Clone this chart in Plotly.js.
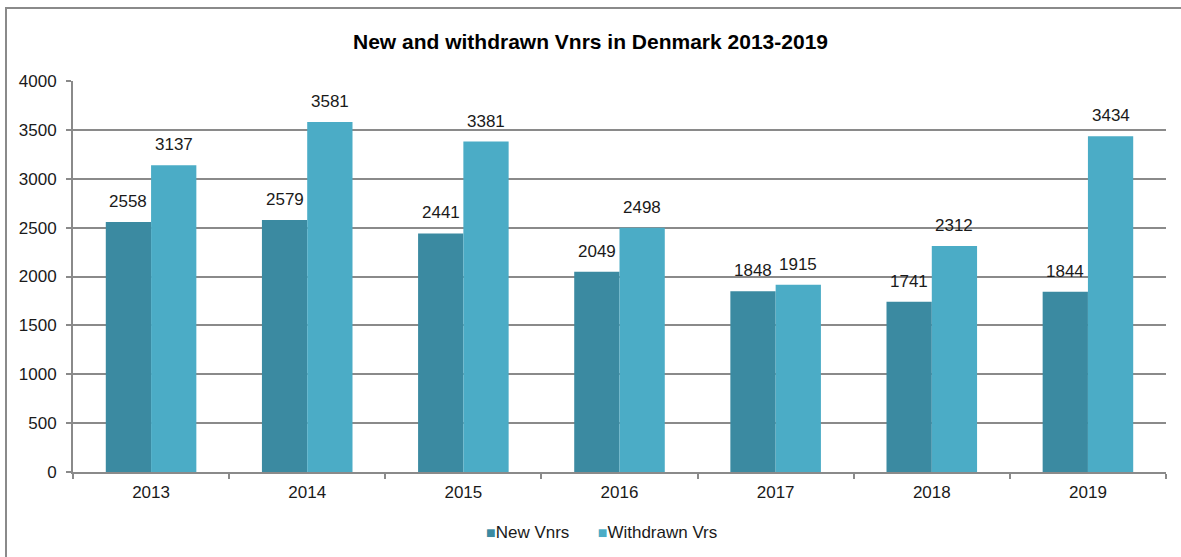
<!DOCTYPE html>
<html>
<head>
<meta charset="utf-8">
<script src="https://cdn.plot.ly/plotly-3.0.1.min.js"></script>
<style>
  html, body { margin: 0; padding: 0; background: #fff; overflow: hidden; }
  #chart { width: 1181px; height: 557px; position: absolute; left: 0; top: 0; }
  #frame { position: absolute; left: 5px; top: 7px; width: 1190px; height: 600px;
           border-left: 2px solid #8a8a8a; border-top: 2px solid #8a8a8a; pointer-events: none; }
</style>
</head>
<body>
<div id="chart"></div>
<div id="frame"></div>
<script>
const years = ['2013', '2014', '2015', '2016', '2017', '2018', '2019'];
const newVnrs = [2558, 2579, 2441, 2049, 1848, 1741, 1844];
const withdrawnVrs = [3137, 3581, 3381, 2498, 1915, 2312, 3434];
const seriesNames = ['New Vnrs', 'Withdrawn Vrs'];
const seriesColors = ['#3b8aa1', '#4bacc6'];
const yTicks = [0, 500, 1000, 1500, 2000, 2500, 3000, 3500, 4000];

const FONT = 'Liberation Sans, Arial, sans-serif';
const labelFont = { family: FONT, size: 17, color: '#1a1a1a' };

const W = 1181, H = 557;
const margin = { l: 73, r: 15, t: 81, b: 85 };
const bargap = 0.42;
const plotW = W - margin.l - margin.r;
const catW = plotW / years.length;
const barW = catW * (1 - bargap) / 2;

const seriesData = [newVnrs, withdrawnVrs];

const traces = seriesData.map((vals, i) => ({
  type: 'bar', name: seriesNames[i], x: years, y: vals,
  marker: { color: seriesColors[i] },
  hoverinfo: 'x+y', showlegend: false
}));

const annotations = [];
seriesData.forEach((vals, i) => {
  vals.forEach((v, j) => {
    annotations.push({
      x: j, y: v, xref: 'x', yref: 'y',
      text: String(v), showarrow: false,
      xanchor: 'center', yanchor: 'bottom',
      xshift: (i === 0 ? -1 : 1) * barW / 2,
      yshift: 9,
      font: labelFont
    });
  });
});

// legend built from series names/colors
const legendText = seriesNames.map((n, i) =>
  '<span style="color:' + seriesColors[i] + ';font-size:16px">■</span>' + n
).join('      ');
annotations.push({
  xref: 'paper', yref: 'paper', x: 0.5, xshift: -18,
  y: -(532 - (H - margin.b)) / (H - margin.t - margin.b),
  xanchor: 'center', yanchor: 'middle',
  text: legendText, showarrow: false,
  font: labelFont
});

const layout = {
  width: W, height: H,
  margin: margin,
  paper_bgcolor: 'rgba(0,0,0,0)',
  plot_bgcolor: '#ffffff',
  barmode: 'group',
  bargap: bargap,
  bargroupgap: 0,
  title: {
    text: '<b>New and withdrawn Vnrs in Denmark 2013-2019</b>',
    font: { family: 'Liberation Sans Narrow, Arial Narrow, Liberation Sans, sans-serif', size: 21, color: '#000' },
    x: 0.5, xanchor: 'center', xref: 'container',
    y: 1 - 42 / H, yanchor: 'middle', yref: 'container'
  },
  xaxis: {
    type: 'category',
    categoryorder: 'array', categoryarray: years,
    tickson: 'boundaries',
    ticks: 'outside', ticklen: 5, tickwidth: 2, tickcolor: '#8a8a8a',
    showline: true, linecolor: '#8a8a8a', linewidth: 2,
    showgrid: false,
    tickfont: labelFont,
    ticklabelstandoff: 4,
    fixedrange: true
  },
  yaxis: {
    range: [0, 4000],
    tickvals: yTicks,
    ticktext: yTicks.map(String),
    ticks: 'outside', ticklen: 5, tickwidth: 2, tickcolor: '#8a8a8a',
    showline: true, linecolor: '#8a8a8a', linewidth: 2,
    showgrid: true, gridcolor: '#8a8a8a', gridwidth: 2,
    zeroline: false,
    tickfont: labelFont,
    ticklabelstandoff: 6,
    fixedrange: true
  },
  showlegend: false,
  annotations: annotations
};

Plotly.newPlot('chart', traces, layout, { displayModeBar: false, staticPlot: true });
</script>
</body>
</html>
